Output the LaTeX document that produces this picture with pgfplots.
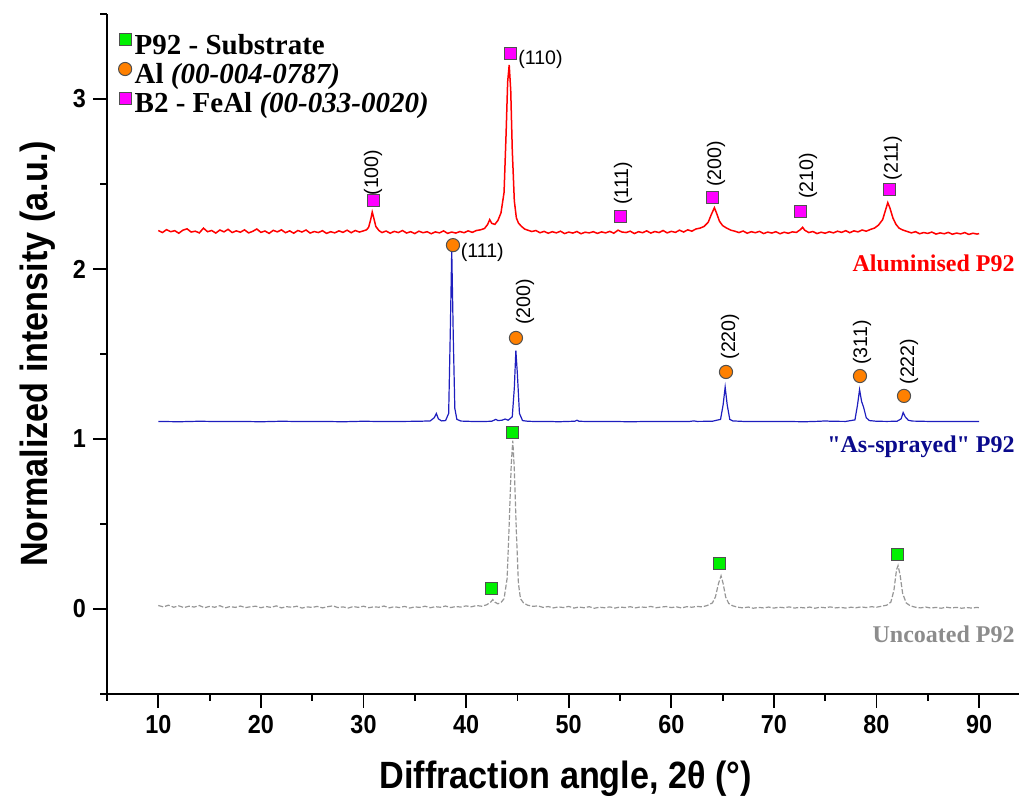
\documentclass[border=0pt]{standalone}
\usepackage{pgfplots}
\pgfplotsset{compat=1.18}
\usepackage{pgfplotstable}
\usepackage{fontspec}
\setmainfont{Liberation Serif}
\newfontfamily\labfont[FakeStretch=0.9]{Liberation Sans}
\newfontfamily\annfont{Liberation Sans}
\newcommand{\sq}{\XeTeXglyph\the\XeTeXcharglyph"22\relax}
\definecolor{tred}{RGB}{255,0,0}
\definecolor{tblue}{RGB}{30,30,190}
\definecolor{lblue}{RGB}{10,10,140}
\definecolor{tgray}{RGB}{150,150,150}
\definecolor{lgray}{RGB}{140,140,140}
\definecolor{mgreen}{RGB}{0,240,0}
\definecolor{morange}{RGB}{255,128,0}
\definecolor{mmag}{RGB}{255,0,255}
\definecolor{medge}{RGB}{80,80,80}

\pgfplotstableread{
x y
10.0 2.226
10.4 2.214
10.8 2.231
11.2 2.219
11.6 2.225
12.0 2.210
12.4 2.228
12.8 2.236
13.2 2.217
13.6 2.222
14.0 2.212
14.4 2.240
14.8 2.219
15.2 2.226
15.6 2.211
16.0 2.229
16.4 2.218
16.8 2.233
17.2 2.214
17.6 2.224
18.0 2.216
18.4 2.230
18.8 2.212
19.2 2.221
19.6 2.235
20.0 2.215
20.4 2.223
20.8 2.209
21.2 2.227
21.6 2.218
22.0 2.230
22.4 2.213
22.8 2.224
23.2 2.210
23.6 2.226
24.0 2.217
24.4 2.229
24.8 2.211
25.2 2.220
25.6 2.214
26.0 2.225
26.4 2.209
26.8 2.219
27.2 2.212
27.6 2.224
28.0 2.215
28.4 2.228
28.8 2.213
29.2 2.226
29.6 2.217
30.0 2.224
30.3 2.230
30.5 2.245
30.7 2.290
30.85 2.335
31.0 2.300
31.2 2.250
31.5 2.226
31.8 2.214
32.2 2.223
32.6 2.210
33.0 2.221
33.4 2.214
33.8 2.226
34.2 2.211
34.6 2.219
35.0 2.208
35.4 2.222
35.8 2.213
36.2 2.219
36.6 2.207
37.0 2.218
37.4 2.212
37.8 2.224
38.2 2.209
38.6 2.217
39.0 2.211
39.4 2.220
39.8 2.213
40.2 2.224
40.6 2.215
41.0 2.226
41.4 2.230
41.8 2.238
42.1 2.262
42.3 2.290
42.5 2.268
42.8 2.262
43.1 2.285
43.4 2.330
43.7 2.450
43.9 2.800
44.05 3.100
44.2 3.200
44.35 3.050
44.5 2.700
44.7 2.400
44.9 2.300
45.1 2.270
45.4 2.250
45.7 2.235
46.0 2.228
46.4 2.220
46.8 2.226
47.2 2.213
47.6 2.221
48.0 2.210
48.4 2.219
48.8 2.212
49.2 2.222
49.6 2.208
50.0 2.217
50.4 2.211
50.8 2.220
51.2 2.207
51.6 2.216
52.0 2.212
52.4 2.219
52.8 2.209
53.2 2.218
53.6 2.212
54.0 2.221
54.4 2.210
54.8 2.228
55.2 2.217
55.6 2.214
56.0 2.222
56.4 2.208
56.8 2.219
57.2 2.213
57.6 2.224
58.0 2.211
58.4 2.220
58.8 2.214
59.2 2.226
59.6 2.212
60.0 2.221
60.4 2.215
60.8 2.228
61.2 2.217
61.6 2.230
62.0 2.222
62.4 2.235
62.8 2.240
63.2 2.250
63.6 2.275
63.9 2.320
64.2 2.360
64.4 2.330
64.7 2.280
65.0 2.255
65.4 2.240
65.8 2.228
66.2 2.222
66.6 2.214
67.0 2.223
67.4 2.210
67.8 2.219
68.2 2.213
68.6 2.221
69.0 2.208
69.4 2.217
69.8 2.211
70.2 2.219
70.6 2.207
71.0 2.216
71.4 2.210
71.8 2.218
72.2 2.215
72.6 2.232
72.8 2.245
73.0 2.228
73.4 2.214
73.8 2.220
74.2 2.208
74.6 2.216
75.0 2.210
75.4 2.219
75.8 2.212
76.2 2.222
76.6 2.215
77.0 2.225
77.4 2.213
77.8 2.224
78.2 2.218
78.6 2.229
79.0 2.222
79.4 2.232
79.8 2.240
80.2 2.258
80.6 2.290
80.9 2.350
81.1 2.390
81.3 2.360
81.6 2.300
81.9 2.262
82.2 2.240
82.6 2.228
83.0 2.220
83.4 2.212
83.8 2.219
84.2 2.207
84.6 2.214
85.0 2.209
85.4 2.217
85.8 2.205
86.2 2.212
86.6 2.207
87.0 2.215
87.4 2.204
87.8 2.211
88.2 2.206
88.6 2.214
89.0 2.203
89.4 2.210
89.8 2.205
90.0 2.208
}\alumin

\pgfplotstableread{
x y
10 1.103
12 1.101
14 1.104
16 1.102
18 1.103
20 1.101
22 1.104
24 1.102
26 1.103
28 1.101
30 1.104
32 1.102
34 1.103
35.5 1.104
36.5 1.106
36.9 1.125
37.1 1.150
37.3 1.118
37.6 1.106
38.0 1.108
38.3 1.150
38.45 1.600
38.6 2.110
38.75 1.600
38.9 1.180
39.1 1.115
39.5 1.105
40.5 1.103
41.5 1.102
42.5 1.104
42.9 1.115
43.1 1.108
43.5 1.110
43.8 1.117
44.1 1.110
44.5 1.130
44.7 1.300
44.85 1.520
45.0 1.380
45.2 1.150
45.5 1.108
46 1.104
47 1.102
48 1.103
49 1.101
50 1.103
50.6 1.104
50.8 1.110
51.0 1.104
52 1.102
54 1.103
56 1.101
58 1.103
60 1.102
61.8 1.103
62.2 1.106
62.5 1.103
64 1.104
64.8 1.115
65.05 1.200
65.25 1.305
65.45 1.200
65.7 1.115
66.0 1.106
67 1.103
69 1.102
71 1.103
73 1.101
74.5 1.104
75 1.106
75.5 1.104
77 1.103
77.9 1.112
78.15 1.200
78.35 1.290
78.55 1.220
78.75 1.185
79.0 1.125
79.3 1.108
80 1.104
81 1.103
82 1.104
82.4 1.118
82.6 1.155
82.8 1.130
83.1 1.110
83.5 1.105
85 1.103
87 1.102
89 1.103
90 1.102
}\sprayed

\pgfplotstableread{
x y
10.0 0.020
10.5 0.012
11.0 0.022
11.5 0.010
12.0 0.018
12.5 0.008
13.0 0.016
13.5 0.011
14.0 0.020
14.5 0.007
15.0 0.015
15.5 0.010
16.0 0.019
16.5 0.006
17.0 0.014
17.5 0.009
18.0 0.017
18.5 0.008
19.0 0.013
19.5 0.016
20.0 0.007
20.5 0.014
21.0 0.009
21.5 0.018
22.0 0.006
22.5 0.013
23.0 0.010
23.5 0.016
24.0 0.005
24.5 0.012
25.0 0.009
25.5 0.015
26.0 0.006
26.5 0.013
27.0 0.018
27.5 0.008
28.0 0.012
28.5 0.005
29.0 0.014
29.5 0.009
30.0 0.016
30.5 0.007
31.0 0.012
31.5 0.010
32.0 0.017
32.5 0.006
33.0 0.013
33.5 0.008
34.0 0.015
34.5 0.005
35.0 0.012
35.5 0.009
36.0 0.016
36.5 0.007
37.0 0.013
37.5 0.010
38.0 0.017
38.5 0.008
39.0 0.014
39.5 0.011
40.0 0.018
40.5 0.012
41.0 0.020
41.5 0.016
42.0 0.024
42.4 0.040
42.6 0.055
42.8 0.040
43.1 0.030
43.4 0.038
43.7 0.060
44.0 0.180
44.2 0.500
44.4 0.850
44.55 0.990
44.7 0.820
44.9 0.450
45.1 0.150
45.3 0.060
45.6 0.035
46.0 0.022
46.5 0.015
47.0 0.018
47.5 0.009
48.0 0.014
48.5 0.006
49.0 0.012
49.5 0.008
50.0 0.015
50.5 0.005
51.0 0.011
51.5 0.007
52.0 0.013
52.5 0.004
53.0 0.010
53.5 0.007
54.0 0.012
54.5 0.005
55.0 0.011
55.5 0.008
56.0 0.013
56.5 0.006
57.0 0.012
57.5 0.009
58.0 0.015
58.5 0.007
59.0 0.011
59.5 0.014
60.0 0.008
60.5 0.012
61.0 0.006
61.5 0.013
62.0 0.010
62.5 0.015
63.0 0.012
63.5 0.020
64.0 0.035
64.3 0.070
64.6 0.150
64.85 0.195
65.05 0.150
65.3 0.070
65.6 0.032
66.0 0.018
66.5 0.010
67.0 0.006
67.5 0.011
68.0 0.004
68.5 0.009
69.0 0.006
69.5 0.011
70.0 0.005
70.5 0.010
71.0 0.007
71.5 0.012
72.0 0.005
72.5 0.009
73.0 0.006
73.5 0.011
74.0 0.004
74.5 0.010
75.0 0.007
75.5 0.012
76.0 0.006
76.5 0.009
77.0 0.005
77.5 0.010
78.0 0.007
78.5 0.012
79.0 0.008
79.5 0.013
80.0 0.010
80.5 0.016
81.0 0.022
81.4 0.040
81.7 0.110
81.95 0.230
82.1 0.255
82.3 0.200
82.55 0.090
82.9 0.035
83.3 0.018
83.8 0.010
84.3 0.006
84.8 0.011
85.3 0.005
85.8 0.009
86.3 0.004
86.8 0.010
87.3 0.006
87.8 0.009
88.3 0.004
88.8 0.008
89.3 0.005
89.8 0.009
90.0 0.007
}\uncoated

\begin{document}
\begin{tikzpicture}
\begin{axis}[
  scale only axis, width=456pt, height=340pt,
  xmin=5, xmax=93.89, ymin=-0.5, ymax=3.5,
  axis x line=bottom, axis y line=left,
  axis line style={-, line width=1pt},
  xtick={10,20,...,90}, minor xtick={5,15,...,85},
  ytick={0,1,2,3}, minor ytick={-0.5,0.5,1.5,2.5,3.5},
  tick align=outside, major tick length=7pt, minor tick length=3.5pt,
  every tick/.style={black, line width=0.9pt},
  /pgf/number format/assume math mode=true,
  tick label style={font=\labfont\bfseries\fontsize{13}{13}\selectfont},
  xlabel={Diffraction angle, 2θ (°)},
  ylabel={Normalized intensity (a.u.)},
  label style={font=\labfont\bfseries\fontsize{19}{19}\selectfont},
  xlabel style={at={(axis description cs:0.503,-0.125)}, anchor=center},
  ylabel style={at={(axis description cs:-0.0757,0.5)}, anchor=center},
  clip=false,
  legend style={at={(axis description cs:0.01,0.978)}, anchor=north west,
    draw=none, fill=none, font=\bfseries\fontsize{14.5}{15}\selectfont,
    row sep=0pt, inner sep=1pt, nodes={inner sep=1.5pt},
    /tikz/every even column/.append style={column sep=2pt}},
  legend cell align=left,
  legend image code/.code={\draw[#1] plot coordinates {(0pt,3pt)};},
]
\addplot[tred, line width=0.75pt, forget plot] table[x=x,y=y] {\alumin};
\addplot[tblue, line width=0.6pt, forget plot] table[x=x,y=y] {\sprayed};
\addplot[tgray, line width=0.6pt, dash pattern=on 2.5pt off 1pt, forget plot] table[x=x,y=y] {\uncoated};

\addplot[only marks, mark=square*, mark size=3pt, mark options={fill=mgreen, draw=medge, line width=0.5pt}]
  coordinates {(42.52,0.118) (44.57,1.035) (64.65,0.27) (82.0,0.318)};
\addlegendentry{P92 - Substrate}
\addplot[only marks, mark=*, mark size=3.3pt, mark options={fill=morange, draw=medge, line width=0.5pt}]
  coordinates {(38.72,2.14) (44.86,1.594) (65.33,1.394) (78.39,1.37) (82.68,1.253)};
\addlegendentry{Al \textit{(00-004-0787)}}
\addplot[only marks, mark=square*, mark size=3pt, mark options={fill=mmag, draw=medge, line width=0.5pt}]
  coordinates {(30.93,2.40) (44.28,3.265) (55.0,2.31) (64.06,2.42) (72.64,2.34) (81.22,2.47)};
\addlegendentry{B2 - FeAl \textit{(00-033-0020)}}

% peak labels
\tikzset{pk/.style={font=\annfont\fontsize{9.8}{10}\selectfont, inner sep=0pt},
         pkr/.style={pk, rotate=90, anchor=west}}
\node[pk, anchor=west] at (axis cs:45.05,3.23) {(110)};
\node[pkr] at (axis cs:30.93,2.43) {(100)};
\node[pkr] at (axis cs:55.29,2.376) {(111)};
\node[pkr] at (axis cs:64.36,2.48) {(200)};
\node[pkr] at (axis cs:73.32,2.41) {(210)};
\node[pkr] at (axis cs:81.6,2.52) {(211)};
\node[pk, anchor=west] at (axis cs:39.45,2.10) {(111)};
\node[pkr] at (axis cs:45.74,1.67) {(200)};
\node[pkr] at (axis cs:65.72,1.465) {(220)};
\node[pkr] at (axis cs:78.59,1.435) {(311)};
\node[pkr] at (axis cs:83.17,1.318) {(222)};

% series labels
\tikzset{sl/.style={font=\bfseries\fontsize{12}{12}\selectfont, anchor=east, inner sep=0pt}}
\node[sl, text=tred] at (axis cs:93.5,2.035) {Aluminised P92};
\node[sl, text=lblue] at (axis cs:93.5,0.953) {\sq As-sprayed\sq{} P92};
\node[sl, text=lgray] at (axis cs:93.5,-0.147) {Uncoated P92};

\coordinate (BL) at (axis cs:-5.43,-1.153);
\coordinate (TR) at (axis cs:93.89,3.582);
\end{axis}
\pgfresetboundingbox
\path (BL) rectangle (TR);
\end{tikzpicture}
\end{document}
